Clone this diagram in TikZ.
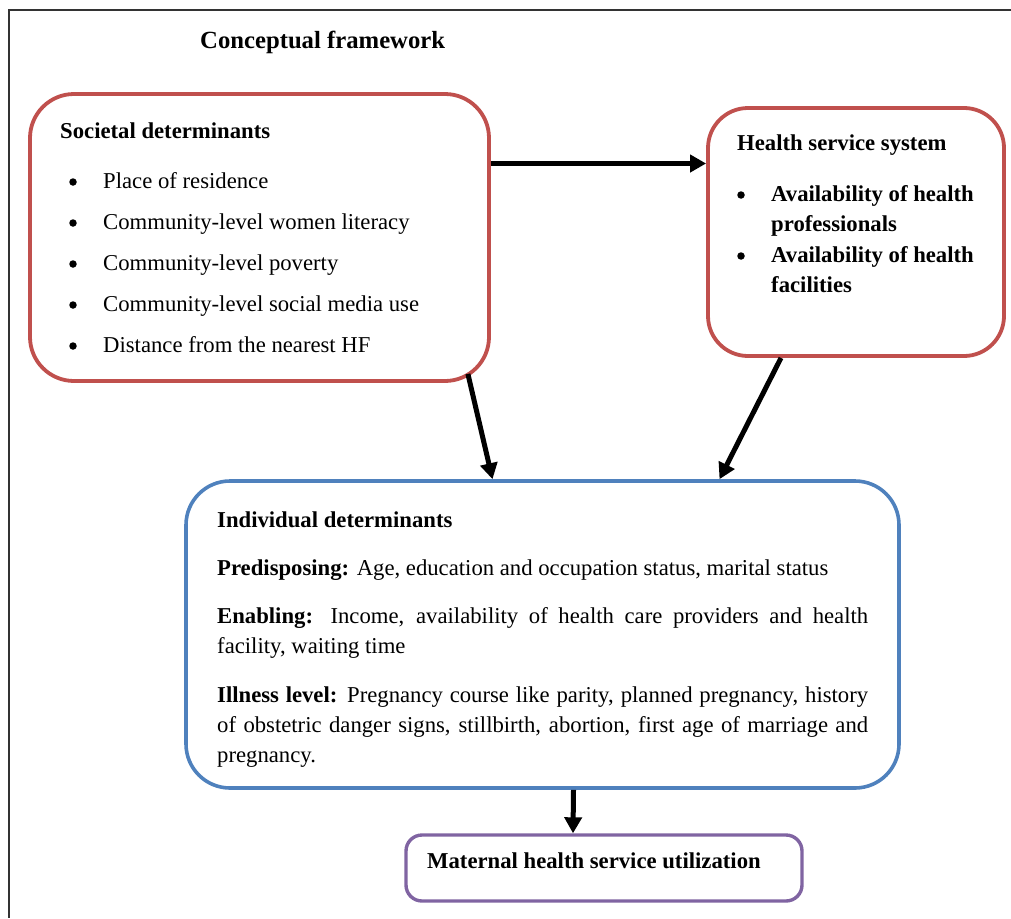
\documentclass[tikz,border=0pt]{standalone}
\usepackage{fontspec}
\setmainfont{Liberation Serif}
\usetikzlibrary{arrows.meta}
\definecolor{cred}{HTML}{C0504D}
\definecolor{cblue}{HTML}{4F81BD}
\definecolor{cpurple}{HTML}{8064A2}
\definecolor{cframe}{HTML}{333333}
\tikzset{
  box/.style={draw, rounded corners=#1, fill=none, inner sep=0pt},
  redbox/.style={box=44pt, draw=cred, line width=3.8pt},
  bluebox/.style={box=44pt, draw=cblue, line width=3.6pt},
  purplebox/.style={box=16pt, draw=cpurple, line width=3.4pt},
  arr/.style={line width=5pt, -{Triangle[length=16pt,width=17pt]}},
  txt/.style={anchor=base west, inner sep=0pt, font=\fontsize{22.7}{30}\selectfont},
  btxt/.style={txt, font=\fontsize{22.7}{30}\selectfont\bfseries},
  bul/.style={circle, fill=black, inner sep=0pt, minimum size=7.5pt},
}
\begin{document}
\begin{tikzpicture}[x=1pt,y=-1pt]
\useasboundingbox (0,0) rectangle (1011,918);
\draw[cframe, line width=1.4pt] (1011,10) -- (9,10) -- (9,918);

% title
\node[btxt, font=\fontsize{24.7}{30}\selectfont\bfseries] (title) at (200,48) {Conceptual framework};

% boxes
\node[redbox, minimum width=459pt, minimum height=287pt] (soc) at (259.5,237.5) {};
\node[redbox, rounded corners=40pt, minimum width=296pt, minimum height=248pt] (hs) at (856,232) {};
\node[bluebox, minimum width=713pt, minimum height=307pt] (ind) at (542.5,634.5) {};
\node[purplebox, minimum width=396pt, minimum height=66pt] (mat) at (604,868) {};

% societal text
\node[btxt] (socT) at (60,138.5) {Societal determinants};
\node[bul] (sb1) at (73,182) {};
\node[txt] (s1) at (103,188.5) {Place of residence};
\node[bul] (sb2) at (73,223) {};
\node[txt] (s2) at (103,229.5) {Community-level women literacy};
\node[bul] (sb3) at (73,264) {};
\node[txt] (s3) at (103,270.5) {Community-level poverty};
\node[bul] (sb4) at (73,305) {};
\node[txt] (s4) at (103,311.5) {Community-level social media use};
\node[bul] (sb5) at (73,346) {};
\node[txt] (s5) at (103,352.5) {Distance from the nearest HF};

% health service text
\node[btxt] (hsT) at (737,150.5) {Health service system};
\node[bul] (hb1) at (741,195) {};
\node[btxt] (h1) at (771,201.5) {Availability of health};
\node[btxt] (h2) at (771,231) {professionals};
\node[bul] (hb2) at (741,256) {};
\node[btxt] (h3) at (771,262.5) {Availability of health};
\node[btxt] (h4) at (771,292.5) {facilities};

% individual text
\node[btxt] (indT) at (217,527.5) {Individual determinants};
\node[txt] (i1) at (217,575.5) {\textbf{Predisposing:} Age, education and occupation status, marital status};
\node[txt] (i2) at (217,623.5) {\makebox[651pt][s]{\textbf{Enabling:} Income, availability of health care providers and health}};
\node[txt] (i3) at (217,653.5) {facility, waiting time};
\node[txt] (i4) at (217,702.5) {\makebox[651pt][s]{\textbf{Illness level:} Pregnancy course like parity, planned pregnancy, history}};
\node[txt] (i5) at (217,732.5) {\makebox[651pt][s]{of obstetric danger signs, stillbirth, abortion, first age of marriage and}};
\node[txt] (i6) at (217,762.5) {pregnancy.};

% maternal text
\node[btxt] (matT) at (427,868.5) {Maternal health service utilization};

% arrows
\draw[arr] ([yshift=74pt]soc.east) -- ([yshift=74pt]soc.east -| hs.west);
\draw[arr] ([xshift=-23pt,yshift=9pt]soc.south east) -- ([xshift=-50pt]ind.north);
\draw[arr] ([xshift=-75pt]hs.south) -- ([xshift=177pt]ind.north);
\draw[arr] ([xshift=31pt]ind.south) -- ([xshift=-31pt]mat.north);
\end{tikzpicture}
\end{document}
